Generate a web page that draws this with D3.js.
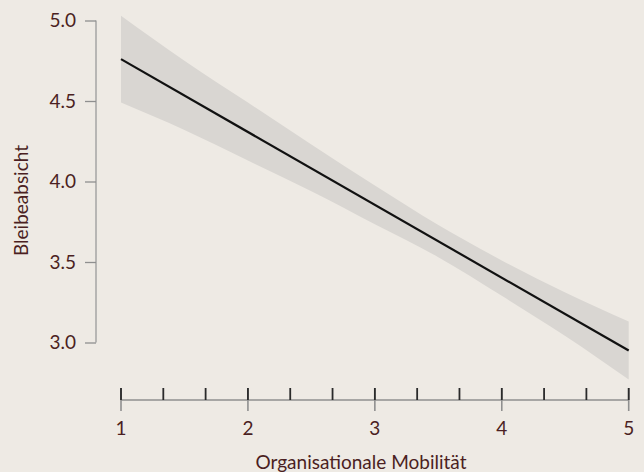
<!DOCTYPE html>
<html>
<head>
<meta charset="utf-8">
<script src="https://cdn.jsdelivr.net/npm/d3@7"></script>
<style>
  html, body { margin: 0; padding: 0; background: #eeeae4; }
  svg { display: block; }
  text { font-family: Lato, "Open Sans", sans-serif; fill: #4b1f22; }
</style>
</head>
<body>
<svg id="chart" width="644" height="472"></svg>
<script>
// Regression of Bleibeabsicht on Organisationale Mobilität
const fitX = [1, 5];
const fitY = [4.76, 2.95];

// 95% confidence band of the fitted line
const bandX = [1, 1.5, 2, 2.5, 3, 3.5, 4, 4.5, 5];
const bandLower = [4.49, 4.32, 4.13, 3.94, 3.735, 3.53, 3.29, 3.04, 2.77];
const bandUpper = [5.03, 4.75, 4.49, 4.23, 3.975, 3.73, 3.51, 3.31, 3.13];

const yTicks = [3.0, 3.5, 4.0, 4.5, 5.0];
const xTicks = [1, 2, 3, 4, 5];
const xMinorStep = 1 / 3;

const xTitle = "Organisationale Mobilität";
const yTitle = "Bleibeabsicht";

const fontSize = "19px";

const svg = d3.select("#chart");

const x = d3.scaleLinear().domain([1, 5]).range([121, 628.7]);
const y = d3.scaleLinear().domain([3, 5]).range([342.5, 20.5]);

// confidence band
const band = bandX.map((v, i) => ({ x: v, lo: bandLower[i], hi: bandUpper[i] }));
svg.append("path")
  .datum(band)
  .attr("fill", "#d9d6d2")
  .attr("d", d3.area()
    .x(d => x(d.x))
    .y0(d => y(d.lo))
    .y1(d => y(d.hi))
    .curve(d3.curveMonotoneX));

// fitted line
svg.append("path")
  .datum(fitX.map((v, i) => ({ x: v, y: fitY[i] })))
  .attr("fill", "none")
  .attr("stroke", "#111")
  .attr("stroke-width", 2.2)
  .attr("d", d3.line().x(d => x(d.x)).y(d => y(d.y)));

// y axis (range frame, offset to the left)
const yAxis = svg.append("g")
  .attr("transform", "translate(96,0)")
  .call(d3.axisLeft(y).tickValues(yTicks).tickFormat(d3.format(".1f")).tickSize(11).tickPadding(9));
yAxis.select(".domain").attr("stroke", "#9a9a9a").attr("stroke-width", 1.3)
  .attr("d", `M0,${y(5)}V${y(3)}`);
yAxis.selectAll(".tick line").attr("stroke", "#8f8f8f").attr("stroke-width", 1.3);
yAxis.selectAll(".tick text").style("font-size", fontSize).attr("fill", "#4b1f22")
  .style("font-family", "Lato, sans-serif");

// x axis (offset below the panel)
const axisY = 400;
const xg = svg.append("g");
xg.append("line")
  .attr("x1", x(1)).attr("x2", x(5))
  .attr("y1", axisY).attr("y2", axisY)
  .attr("stroke", "#8f8f8f").attr("stroke-width", 1.3);

// major ticks crossing the axis line
xg.selectAll(".major").data(xTicks).join("line")
  .attr("class", "major")
  .attr("x1", d => x(d)).attr("x2", d => x(d))
  .attr("y1", axisY - 12).attr("y2", axisY + 11)
  .attr("stroke", "#8f8f8f").attr("stroke-width", 1.6);

// rug-style ticks every third of a unit
const minor = d3.range(0, 13).map(i => 1 + i * xMinorStep);
xg.selectAll(".minor").data(minor).join("line")
  .attr("class", "minor")
  .attr("x1", d => x(d)).attr("x2", d => x(d))
  .attr("y1", axisY - 12).attr("y2", axisY)
  .attr("stroke", "#2a2a2a").attr("stroke-width", 1.8);

xg.selectAll(".xlabel").data(xTicks).join("text")
  .attr("class", "xlabel")
  .attr("x", d => x(d)).attr("y", 435)
  .attr("text-anchor", "middle")
  .style("font-size", fontSize)
  .text(d => d3.format("d")(d));

// axis titles
svg.append("text")
  .attr("x", 361).attr("y", 469)
  .attr("text-anchor", "middle")
  .style("font-size", fontSize)
  .text(xTitle);

svg.append("text")
  .attr("transform", "translate(28,200.5) rotate(-90)")
  .attr("text-anchor", "middle")
  .style("font-size", fontSize)
  .text(yTitle);
</script>
</body>
</html>
